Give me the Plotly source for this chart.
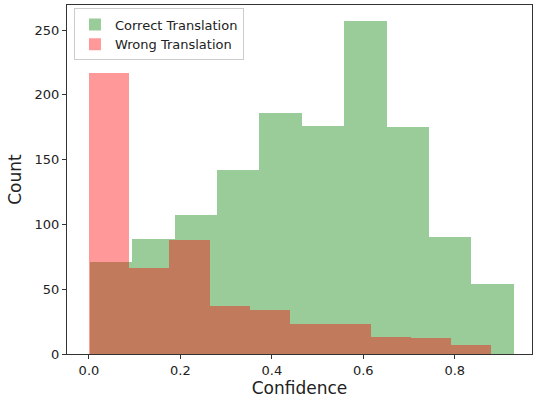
import plotly.graph_objects as go

# Histogram data
correct_edges = [0.002, 0.0947, 0.1874, 0.2801, 0.3728, 0.4655, 0.5582, 0.6509, 0.7436, 0.8363, 0.929]
correct_counts = [71, 89, 107, 142, 186, 176, 257, 175, 90, 54]

wrong_edges = [0.0, 0.088, 0.176, 0.264, 0.352, 0.44, 0.528, 0.616, 0.704, 0.792, 0.88]
wrong_counts = [217, 66, 88, 37, 34, 23, 23, 13, 12, 7]

x_ticks = [0.0, 0.2, 0.4, 0.6, 0.8]
y_ticks = [0, 50, 100, 150, 200, 250]


def centers_widths(edges):
    c = [(a + b) / 2 for a, b in zip(edges[:-1], edges[1:])]
    w = [b - a for a, b in zip(edges[:-1], edges[1:])]
    return c, w


cc, cw = centers_widths(correct_edges)
wc, ww = centers_widths(wrong_edges)

fig = go.Figure()
fig.add_trace(go.Bar(x=cc, y=correct_counts, width=cw, name="Correct Translation",
                     marker=dict(color="rgba(0,128,0,0.4)", line=dict(width=0))))
fig.add_trace(go.Bar(x=wc, y=wrong_counts, width=ww, name="Wrong Translation",
                     marker=dict(color="rgba(255,0,0,0.4)", line=dict(width=0))))

fig.update_layout(
    width=534, height=403,
    margin=dict(l=67, r=2, t=5, b=49),
    barmode="overlay",
    paper_bgcolor="white", plot_bgcolor="white",
    font=dict(family="DejaVu Sans", size=13, color="#222"),
    showlegend=True,
    legend=dict(x=0.015, y=0.99, xanchor="left", yanchor="top",
                bgcolor="rgba(255,255,255,0.8)", bordercolor="#cccccc", borderwidth=1,
                font=dict(size=13), tracegroupgap=0, itemwidth=30),
    bargap=0,
)
fig.update_xaxes(range=[-0.048, 0.969], tickvals=x_ticks, ticktext=[f"{v:.1f}" for v in x_ticks],
                 ticks="outside", ticklen=4, tickcolor="#333", showline=True, linecolor="#333",
                 linewidth=1, mirror=True, showgrid=False, zeroline=False, automargin=False,
                 tickfont=dict(size=13),
                 title=dict(text="Confidence", font=dict(size=17), standoff=4))
fig.update_yaxes(range=[0, 269.3], tickvals=y_ticks, ticks="outside", ticklen=4, tickcolor="#333",
                 showline=True, linecolor="#333", linewidth=1, mirror=True, showgrid=False,
                 zeroline=False, automargin=False, tickfont=dict(size=13),
                 title=dict(text="Count", font=dict(size=17), standoff=8))

fig.write_html("out.html", config={"displayModeBar": False},
               post_script="document.body.style.margin='0';document.body.style.padding='0';")
